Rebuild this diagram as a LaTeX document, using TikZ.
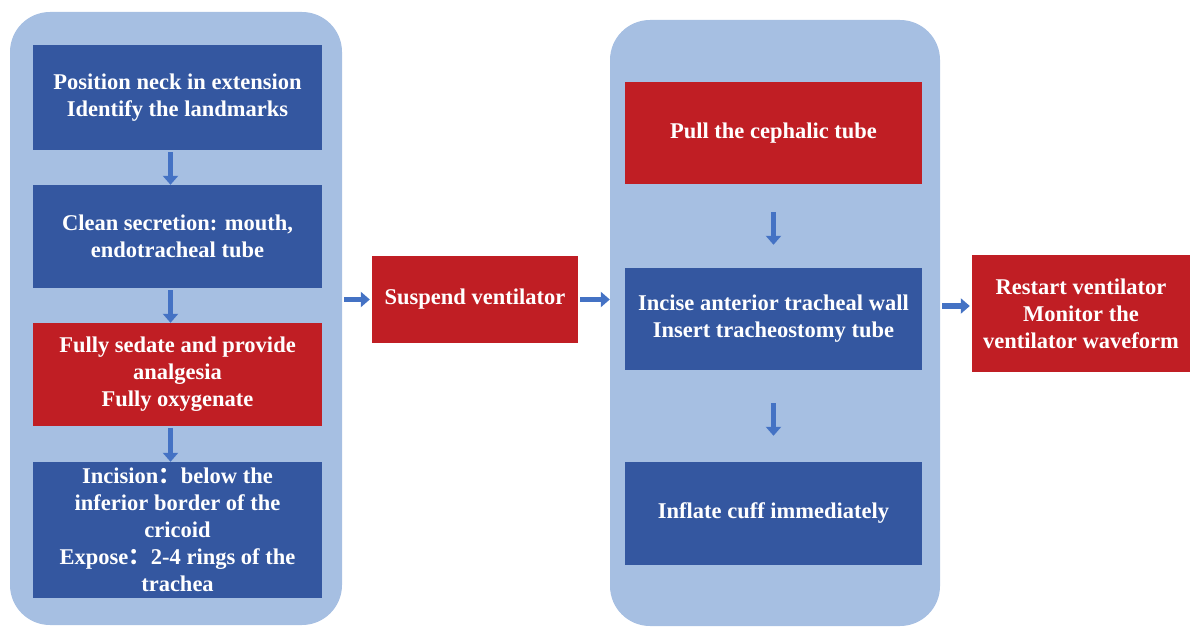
\documentclass[tikz,border=0pt]{standalone}
\usepackage{fontspec}
\setmainfont{Liberation Serif}
\newfontfamily\cjk{Noto Sans CJK SC}
\usetikzlibrary{positioning,arrows.meta}
\definecolor{panelblue}{RGB}{166,191,226}
\definecolor{boxblue}{RGB}{52,87,160}
\definecolor{boxred}{RGB}{192,30,36}
\definecolor{arrowblue}{RGB}{68,114,196}
\newcommand{\fwcolon}{{\cjk ：}}

\begin{document}
\begin{tikzpicture}[x=1pt,y=-1pt,
  every node/.style = {shape=rectangle, align=center, inner sep=0pt,
    font=\fontsize{22.5}{27}\selectfont\bfseries, text=white},
  panel/.style = {fill=panelblue, rounded corners=40pt},
  bluebox/.style = {fill=boxblue, minimum width=289pt},
  redbox/.style = {fill=boxred, minimum width=289pt},
  flow/.style = {draw=arrowblue, line width=5.5pt,
    -{Triangle[width=15pt,length=9pt]}}
  ]
  \useasboundingbox (0,0) rectangle (1190,628);

  % the two panels
  \node[panel, minimum width=332pt, minimum height=613pt] (leftpanel) at (176,318.5) {};
  \node[panel, minimum width=330pt, minimum height=606pt] (rightpanel) at (775,323) {};

  % left column
  \node[bluebox, minimum height=105pt] (landmarks) at (177.5,97.5)
    {Position neck in extension\\Identify the landmarks};
  \node[bluebox, minimum height=103pt] (secretion) at (177.5,236.5)
    {Clean secretion: mouth,\\endotracheal tube};
  \node[redbox, minimum height=103pt] (sedate) at (177.5,374.5)
    {Fully sedate and provide\\analgesia\\Fully oxygenate};
  \node[bluebox, minimum height=136pt] (incision) at (177.5,530)
    {Incision\fwcolon below the\\inferior border of the\\cricoid\\Expose\fwcolon 2-4 rings of the\\trachea};

  % middle
  \node[redbox, minimum width=206pt, minimum height=87pt] (suspend) at (475,299.5)
    {Suspend ventilator};

  % right column
  \node[redbox, minimum width=297pt, minimum height=102pt] (pull) at (773.5,133)
    {Pull the cephalic tube};
  \node[bluebox, minimum width=297pt, minimum height=102pt] (incise) at (773.5,319)
    {Incise anterior tracheal wall\\Insert tracheostomy tube};
  \node[bluebox, minimum width=297pt, minimum height=103pt] (inflate) at (773.5,513.5)
    {Inflate cuff immediately};

  \node[redbox, minimum width=218pt, minimum height=117pt] (restart) at (1081,313.5)
    {Restart ventilator\\Monitor the\\ventilator waveform};

  % arrows
  \foreach \a/\b in {landmarks/secretion, secretion/sedate, sedate/incision}
    \draw[flow, shorten <=2pt] ([xshift=-7pt]\a.south) -- ([xshift=-7pt]\b.north);
  \draw[flow, shorten <=28pt, shorten >=23pt] (pull.south) -- (incise.north);
  \draw[flow, shorten <=33pt, shorten >=26pt] (incise.south) -- (inflate.north);
  \draw[flow, shorten <=2pt, shorten >=2pt] (leftpanel.east |- suspend) -- (suspend.west);
  \draw[flow, shorten <=2pt] (suspend.east) -- (rightpanel.west |- suspend);
  \draw[flow, shorten <=2pt, shorten >=2pt] (rightpanel.east |- 0,306) -- (restart.west |- 0,306);
\end{tikzpicture}
\end{document}
